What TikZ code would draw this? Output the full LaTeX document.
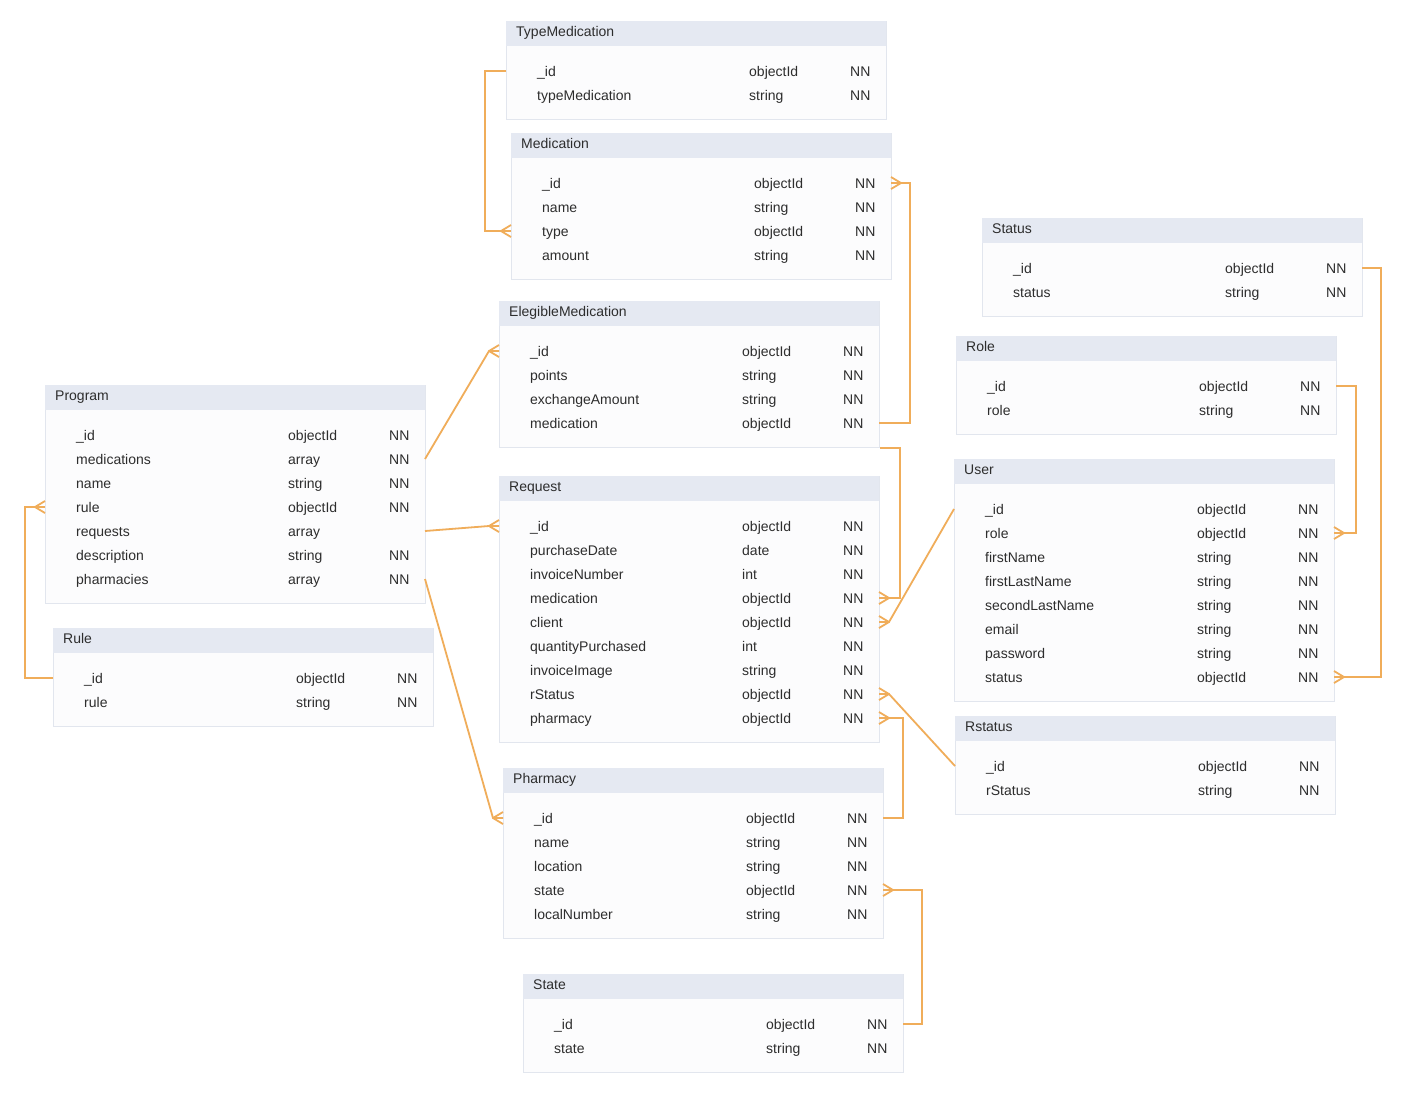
\documentclass[tikz,border=0pt]{standalone}
\usepackage{fontspec}
\setmainfont{Liberation Sans}
\usetikzlibrary{calc}
\definecolor{hdrc}{RGB}{229,233,242}
\definecolor{bodyc}{RGB}{252,252,253}
\definecolor{brd}{RGB}{226,230,238}
\definecolor{linec}{RGB}{240,173,90}
\definecolor{txtc}{RGB}{45,45,45}
\tikzset{
 tbl/.style={draw=brd, fill=bodyc, line width=1pt, minimum width=380pt, inner sep=0pt, anchor=north west},
 hdr/.style={fill=hdrc, minimum width=380pt, minimum height=25pt, inner sep=0pt, anchor=north west},
 txt/.style={font=\fontsize{14}{16}\selectfont, text=txtc, inner sep=0pt, anchor=base west},
 conn/.style={draw=linec, line width=1.8pt},
}
% #1 name, #2 x, #3 ytop, #4 title, #5 rows count, #6 rows
\newcommand\ertab[6]{%
 \node[tbl, minimum height={50pt+24pt*#5}] (#1) at (#2,#3) {};
 \node[hdr] (#1-h) at (#2,#3) {};
 \node[txt] (#1-t) at ({#2+10},{#3+15}) {#4};
 \foreach \fa/\fb/\fc [count=\i] in {#6} {
  \node[txt] (#1-\i-n) at ({#2+31},{#3+26+24*\i+5}) {\fa};
  \node[txt] (#1-\i-y) at ({#2+243},{#3+26+24*\i+5}) {\fb};
  \node[txt] (#1-\i-k) at ({#2+344},{#3+26+24*\i+5}) {\fc};
  \coordinate (#1-\i-w) at (#2,{#3+26+24*\i});
  \coordinate (#1-\i-e) at ({#2+380},{#3+26+24*\i});
 }
}
\newcommand\crowL[1]{\draw[conn] ($(#1)+(-10,0)$) -- ($(#1)+(0,-6)$) ($(#1)+(-10,0)$) -- ($(#1)+(0,6)$);}
\newcommand\crowR[1]{\draw[conn] ($(#1)+(10,0)$) -- ($(#1)+(0,-6)$) ($(#1)+(10,0)$) -- ($(#1)+(0,6)$);}
\begin{document}
\begin{tikzpicture}[x=1pt,y=-1pt]
\useasboundingbox[fill=white] (0,0) rectangle (1403,1096);
\ertab{TM}{506}{21}{TypeMedication}{2}{\_id/objectId/NN, typeMedication/string/NN}
\ertab{Med}{511}{133}{Medication}{4}{\_id/objectId/NN, name/string/NN, type/objectId/NN, amount/string/NN}
\ertab{Status}{982}{218}{Status}{2}{\_id/objectId/NN, status/string/NN}
\ertab{Eleg}{499}{301}{ElegibleMedication}{4}{\_id/objectId/NN, points/string/NN, exchangeAmount/string/NN, medication/objectId/NN}
\ertab{Role}{956}{336}{Role}{2}{\_id/objectId/NN, role/string/NN}
\ertab{Prog}{45}{385}{Program}{7}{\_id/objectId/NN, medications/array/NN, name/string/NN, rule/objectId/NN, requests/array/, description/string/NN, pharmacies/array/NN}
\ertab{User}{954}{459}{User}{8}{\_id/objectId/NN, role/objectId/NN, firstName/string/NN, firstLastName/string/NN, secondLastName/string/NN, email/string/NN, password/string/NN, status/objectId/NN}
\ertab{Req}{499}{476}{Request}{9}{\_id/objectId/NN, purchaseDate/date/NN, invoiceNumber/int/NN, medication/objectId/NN, client/objectId/NN, quantityPurchased/int/NN, invoiceImage/string/NN, rStatus/objectId/NN, pharmacy/objectId/NN}
\ertab{Rule}{53}{628}{Rule}{2}{\_id/objectId/NN, rule/string/NN}
\ertab{Rst}{955}{716}{Rstatus}{2}{\_id/objectId/NN, rStatus/string/NN}
\ertab{Pharm}{503}{768}{Pharmacy}{5}{\_id/objectId/NN, name/string/NN, location/string/NN, state/objectId/NN, localNumber/string/NN}
\ertab{State}{523}{974}{State}{2}{\_id/objectId/NN, state/string/NN}
% connectors
\draw[conn] (TM-1-w) -- ++(-21,0) |- (Med-3-w); \crowL{Med-3-w}
\draw[conn] (Eleg-4-e) -- ++(31,0) |- (Med-1-e); \crowR{Med-1-e}
\draw[conn] (Prog-2-e) -- ($(Eleg-1-w)+(-10,0)$) -- (Eleg-1-w); \crowL{Eleg-1-w}
\draw[conn] (Prog-5-e) -- ($(Req-1-w)+(-10,0)$) -- (Req-1-w); \crowL{Req-1-w}
\draw[conn] (Rule-1-w) -- ++(-28,0) |- (Prog-4-w); \crowL{Prog-4-w}
\draw[conn] (Prog-7-e) -- ($(Pharm-1-w)+(-10,0)$) -- (Pharm-1-w); \crowL{Pharm-1-w}
\draw[conn] (Eleg.south east) -- ++(20,0) |- (Req-4-e); \crowR{Req-4-e}
\draw[conn] (User-1-w) -- ($(Req-5-e)+(10,0)$) -- (Req-5-e); \crowR{Req-5-e}
\draw[conn] (Rst-1-w) -- ($(Req-8-e)+(10,0)$) -- (Req-8-e); \crowR{Req-8-e}
\draw[conn] (Pharm-1-e) -- ++(20,0) |- (Req-9-e); \crowR{Req-9-e}
\draw[conn] (State-1-e) -- ++(19,0) |- (Pharm-4-e); \crowR{Pharm-4-e}
\draw[conn] (Role-1-e) -- ++(20,0) |- (User-2-e); \crowR{User-2-e}
\draw[conn] (Status-1-e) -- ++(19,0) |- (User-8-e); \crowR{User-8-e}
\end{tikzpicture}
\end{document}
